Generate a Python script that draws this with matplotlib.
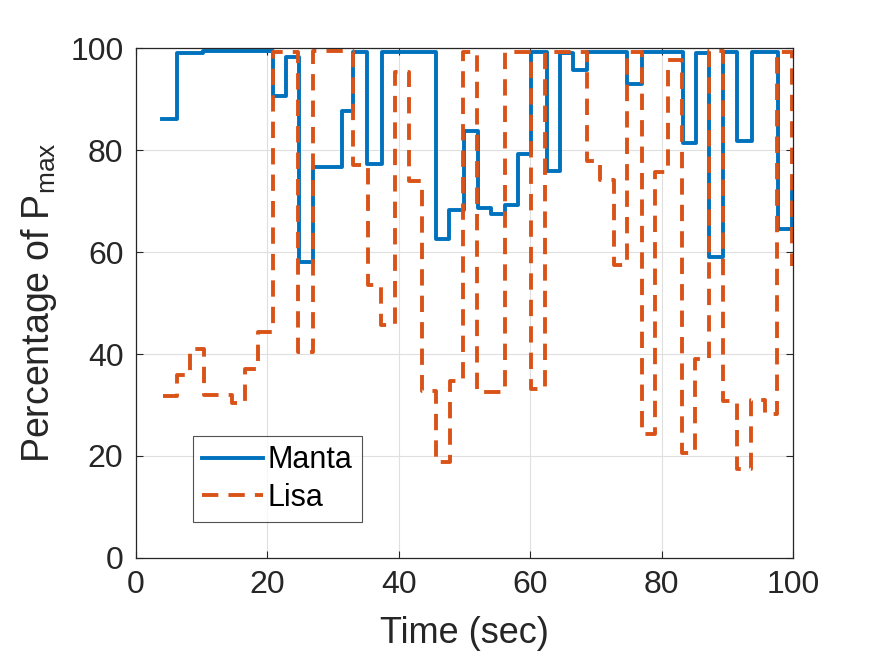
import matplotlib
matplotlib.use("Agg")
import matplotlib.pyplot as plt

# step data (stairs style)
manta_t = [4.0, 6.3, 10.2, 20.8, 22.9, 24.8, 26.9, 31.3, 33.0, 35.2, 37.5, 45.7,
           47.7, 50.0, 52.0, 54.1, 56.1, 58.2, 60.1, 62.5, 64.5, 66.5, 68.6,
           74.8, 77.0, 83.2, 85.3, 87.2, 89.4, 91.4, 93.7, 97.7, 99.8]
manta_p = [86.0, 99.0, 99.4, 90.5, 98.3, 58.0, 76.6, 87.6, 99.2, 77.2, 99.2, 62.6,
           68.3, 83.7, 68.7, 67.5, 69.3, 79.3, 99.2, 75.8, 99.0, 95.7, 99.2,
           93.0, 99.2, 81.3, 99.0, 59.0, 99.2, 81.7, 99.2, 64.6, 72.0]

lisa_t = [4.1, 6.2, 8.2, 10.3, 14.6, 16.6, 18.6, 20.8, 24.6, 26.9, 33.0, 35.3,
          37.3, 39.4, 41.5, 43.6, 45.7, 47.8, 49.8, 51.9, 56.1, 60.1, 62.3,
          68.6, 70.6, 72.7, 74.7, 77.0, 79.0, 81.0, 83.1, 85.1, 87.2, 89.3,
          91.5, 93.6, 95.8, 97.6, 99.8]
lisa_p = [31.8, 35.9, 41.0, 32.0, 30.3, 37.1, 44.4, 99.2, 40.3, 99.4, 77.1, 53.6,
          45.6, 95.3, 74.0, 32.8, 18.8, 34.7, 99.2, 32.5, 99.3, 33.2, 99.2,
          77.8, 74.1, 57.5, 99.3, 24.4, 75.7, 97.7, 20.5, 39.1, 99.5, 30.8,
          17.5, 31.0, 28.3, 99.3, 57.3]

plt.rcParams["font.family"] = ["Liberation Sans", "DejaVu Sans"]
plt.rcParams["mathtext.fontset"] = "custom"
plt.rcParams["mathtext.rm"] = "Liberation Sans"
plt.rcParams["mathtext.it"] = "Liberation Sans:italic"

fig = plt.figure(figsize=(8.75, 6.57), dpi=100)
ax = fig.add_axes([0.1554, 0.1507, 0.7509, 0.7762])

ax.step(manta_t, manta_p, where="post", color="#0072BD", lw=2.8, label="Manta")
ax.step(lisa_t, lisa_p, where="post", color="#D95319", lw=2.8,
        dashes=(4.2, 2.6), label="Lisa")

ax.set_xlim(0, 100)
ax.set_ylim(0, 100)
ax.set_xticks(range(0, 101, 20))
ax.set_yticks(range(0, 101, 20))
ax.grid(True, color="#DFDFDF", lw=0.8)
ax.set_axisbelow(True)
ax.tick_params(direction="in", top=True, right=True, length=5, width=0.8,
               colors="#262626", labelsize=23, pad=9)
for s in ax.spines.values():
    s.set_color("#262626")
    s.set_linewidth(0.9)

ax.set_xlabel("Time (sec)", fontsize=26, color="#262626", labelpad=11)
ax.set_ylabel(r"Percentage of P$_{\mathrm{max}}$", fontsize=27,
              color="#262626", labelpad=8)

leg = ax.legend(loc="lower left", bbox_to_anchor=(0.087, 0.07), fontsize=22,
                frameon=True, fancybox=False, edgecolor="#262626",
                handlelength=2.0, handletextpad=0.15, borderpad=0.3,
                labelspacing=0.25, borderaxespad=0)
leg.get_frame().set_linewidth(0.8)

fig.savefig("out.png", dpi=100)
